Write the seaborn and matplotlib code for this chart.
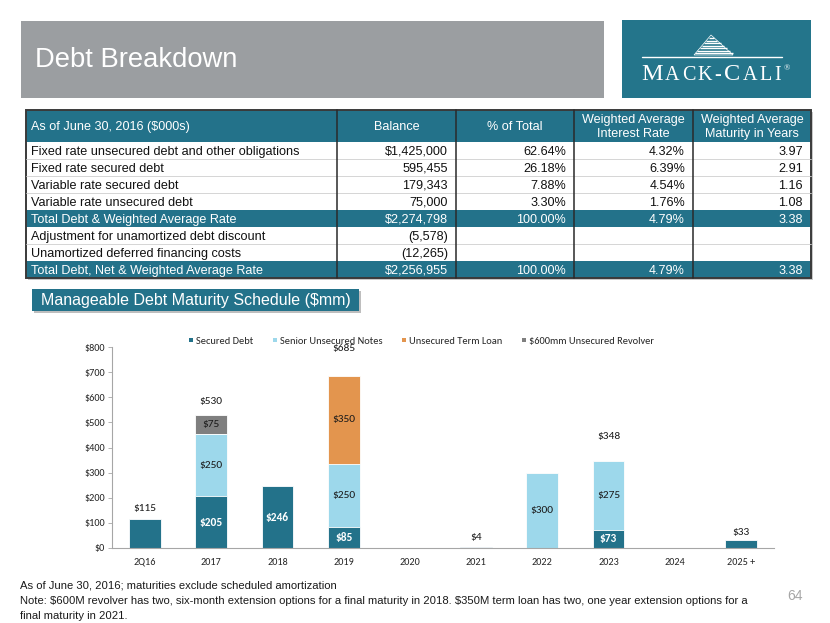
import numpy as np
import pandas as pd
import matplotlib
matplotlib.use("Agg")
import matplotlib.pyplot as plt
import seaborn as sns
from matplotlib import font_manager
from matplotlib.patches import Rectangle, Polygon
from matplotlib.lines import Line2D

# ---------------- data ----------------
categories = ["2Q16", "2017", "2018", "2019", "2020", "2021", "2022", "2023", "2024", "2025 +"]
secured_debt = [115, 205, 246, 85, 0, 4, 0, 73, 0, 33]
senior_unsecured_notes = [0, 250, 0, 250, 0, 0, 300, 275, 0, 0]
unsecured_term_loan = [0, 0, 0, 350, 0, 0, 0, 0, 0, 0]
unsecured_revolver = [0, 75, 0, 0, 0, 0, 0, 0, 0, 0]
series_names = ["Secured Debt", "Senior Unsecured Notes", "Unsecured Term Loan",
                "$600mm Unsecured Revolver"]
show_total = [True, True, False, True, False, True, False, True, False, True]
secured_inside = [False, True, True, True, False, False, False, True, False, False]
y_ticks = [0, 100, 200, 300, 400, 500, 600, 700, 800]

table_header = ["As of June 30, 2016 ($000s)", "Balance", "% of Total",
                "Weighted Average\nInterest Rate", "Weighted Average\nMaturity in Years"]
row_labels = ["Fixed rate unsecured debt and other obligations",
              "Fixed rate secured debt",
              "Variable rate secured debt",
              "Variable rate unsecured debt",
              "Total Debt & Weighted Average Rate",
              "Adjustment for unamortized debt discount",
              "Unamortized deferred financing costs",
              "Total Debt, Net & Weighted Average Rate"]
balance = ["$1,425,000", "595,455", "179,343", "75,000", "$2,274,798",
           "(5,578)", "(12,265)", "$2,256,955"]
pct_total = ["62.64%", "26.18%", "7.88%", "3.30%", "100.00%", "", "", "100.00%"]
interest_rate = ["4.32%", "6.39%", "4.54%", "1.76%", "4.79%", "", "", "4.79%"]
maturity_years = ["3.97", "2.91", "1.16", "1.08", "3.38", "", "", "3.38"]
total_rows = [4, 7]

title = "Debt Breakdown"
subtitle = "Manageable Debt Maturity Schedule ($mm)"
foot1 = "As of June 30, 2016; maturities exclude scheduled amortization"
foot2 = ("Note: $600M revolver has two, six-month extension options for a final maturity in 2018. "
         "$350M term loan has two, one year extension options for a")
foot3 = "final maturity in 2021."
page_no = "64"

# ---------------- style ----------------
plt.rcParams["text.parse_math"] = False
sns.set_theme(style="white")
installed = {f.name for f in font_manager.fontManager.ttflist}
def pick(*names):
    for n in names:
        if n in installed:
            return n
    return "DejaVu Sans"
SANS = pick("Liberation Sans", "Arial")
NARROW = pick("Liberation Sans Narrow", "Liberation Sans")
CHART = pick("Carlito", "Lato", "Open Sans")
SERIF = pick("Liberation Serif", "DejaVu Serif")
plt.rcParams["font.family"] = [SANS, "DejaVu Sans"]

TEAL = "#23728A"
LIGHT = "#9DD8EB"
ORANGE = "#E3954E"
GRAY = "#7F7F7F"
BARGRAY = "#9B9EA1"
colors = [TEAL, LIGHT, ORANGE, GRAY]

W, H = 830, 623
fig = plt.figure(figsize=(W / 100, H / 100), dpi=100)
bg = fig.add_axes([0, 0, 1, 1])
bg.set_xlim(0, W)
bg.set_ylim(H, 0)
bg.axis("off")

# ---------------- header ----------------
bg.add_patch(Rectangle((21, 21), 583, 77, facecolor=BARGRAY, edgecolor="none"))
bg.text(35, 60, title, fontsize=19.7, color="white", va="center", ha="left", family=SANS)

bg.add_patch(Rectangle((622, 20), 189, 78, facecolor="#24758B", edgecolor="none"))
# building icon
for i in range(7):
    yy = 38 + i * 2.5
    bg.plot([711 - (i + 1) * 2.3, 711 + (i + 1) * 3.2], [yy, yy], color="white", lw=1.0,
            solid_capstyle="butt")
bg.add_patch(Polygon([[711, 35], [694, 55], [733, 55]], closed=True, facecolor="none",
                     edgecolor="white", lw=0.5))
bg.plot([642, 782], [56.5, 56.5], color="white", lw=1.0)
# logo word
renderer = fig.canvas.get_renderer()
x = 641
for ch, sz in [("M", 17.5), ("A", 14.5), ("C", 14.5), ("K", 14.5), ("-", 14.5),
               ("C", 17.5), ("A", 14.5), ("L", 14.5), ("I", 14.5)]:
    t = bg.text(x, 80, ch, fontsize=sz, color="white", family=SERIF, va="baseline", ha="left")
    x += t.get_window_extent(renderer).width + 2.4
bg.text(x + 0.5, 70, "®", fontsize=6, color="white", family=SERIF, va="baseline", ha="left")

# ---------------- table ----------------
col_x = [26, 337, 456, 574, 693, 811]
row_y = [110, 142] + [142 + 17.05 * (i + 1) for i in range(len(row_labels))]
tfs = 9.1
bg.add_patch(Rectangle((col_x[0] + 2, row_y[0] + 2), col_x[-1] - col_x[0], row_y[-1] - row_y[0],
                       facecolor="#C8C8C8", edgecolor="none"))
bg.add_patch(Rectangle((col_x[0], row_y[0]), col_x[-1] - col_x[0], row_y[-1] - row_y[0],
                       facecolor="white", edgecolor="none"))
bg.add_patch(Rectangle((col_x[0], row_y[0]), col_x[-1] - col_x[0], row_y[1] - row_y[0],
                       facecolor=TEAL, edgecolor="none"))
for r in total_rows:
    bg.add_patch(Rectangle((col_x[0], row_y[r + 1]), col_x[-1] - col_x[0],
                           row_y[r + 2] - row_y[r + 1], facecolor=TEAL, edgecolor="none"))
for r in range(len(row_labels) - 1):
    if r in total_rows or (r + 1) in total_rows:
        continue
    bg.plot([col_x[0], col_x[-1]], [row_y[r + 2]] * 2, color="#CFCFCF", lw=0.6)
for cx in col_x[1:-1]:
    bg.plot([cx, cx], [row_y[0], row_y[-1]], color="#2A2A2A", lw=1.1)
bg.add_patch(Rectangle((col_x[0], row_y[0]), col_x[-1] - col_x[0], row_y[-1] - row_y[0],
                       facecolor="none", edgecolor="#3A3A3A", lw=1.4))

hy = (row_y[0] + row_y[1]) / 2 + 1
bg.text(col_x[0] + 5, hy, table_header[0], fontsize=tfs, color="white", va="center", ha="left")
for j in range(1, 5):
    bg.text((col_x[j] + col_x[j + 1]) / 2, hy, table_header[j], fontsize=tfs, color="white",
            va="center", ha="center", linespacing=1.2)
for r, lab in enumerate(row_labels):
    cy = (row_y[r + 1] + row_y[r + 2]) / 2 + 4
    c = "white" if r in total_rows else "#111111"
    bg.text(col_x[0] + 5, cy, lab, fontsize=tfs, color=c, va="baseline", ha="left")
    for j, vals in enumerate([balance, pct_total, interest_rate, maturity_years]):
        if vals[r]:
            bg.text(col_x[j + 2] - 8, cy, vals[r], fontsize=tfs, color=c, va="baseline",
                    ha="right")

# ---------------- subtitle bar ----------------
bg.add_patch(Rectangle((34, 291), 327, 22, facecolor="#BEBEBE", edgecolor="none"))
bg.add_patch(Rectangle((32, 289), 327, 22, facecolor=TEAL, edgecolor="none"))
bg.text(41, 300.5, subtitle, fontsize=11.5, color="white", va="center", ha="left")

# ---------------- chart ----------------
ax = fig.add_axes([112 / W, 1 - 548 / H, (774 - 112) / W, (548 - 347) / H])
s1 = np.array(secured_debt)
s2 = s1 + np.array(senior_unsecured_notes)
s3 = s2 + np.array(unsecured_term_loan)
s4 = s3 + np.array(unsecured_revolver)
df = pd.DataFrame({"cat": categories, "c1": s1, "c2": s2, "c3": s3, "c4": s4})
for col, colr in zip(["c4", "c3", "c2", "c1"], [GRAY, ORANGE, LIGHT, TEAL]):
    sns.barplot(data=df, x="cat", y=col, order=categories, color=colr, saturation=1,
                width=0.48, edgecolor="white", linewidth=0.6, ax=ax)
ax.set_xlim(-0.5, 9.5)
ax.set_ylim(0, 800)
ax.set_xlabel("")
ax.set_ylabel("")
ax.set_yticks(y_ticks)
ax.set_yticklabels([f"${v}" for v in y_ticks], family=CHART, fontsize=7.4, color="#262626")
ax.set_xticks(range(len(categories)))
ax.set_xticklabels(categories, family=CHART, fontsize=7.3, color="#262626")
ax.tick_params(axis="y", length=3, width=0.6, color="#A6A6A6", pad=2, left=True)
ax.tick_params(axis="x", length=0, pad=7)
for s in ["top", "right"]:
    ax.spines[s].set_visible(False)
for s in ["left", "bottom"]:
    ax.spines[s].set_color("#A6A6A6")
    ax.spines[s].set_linewidth(0.8)
ax.patch.set_alpha(0)

# segment labels
segs = [secured_debt, senior_unsecured_notes, unsecured_term_loan, unsecured_revolver]
bottoms = [np.zeros(len(categories)), s1, s2, s3]
for k, (vals, bot) in enumerate(zip(segs, bottoms)):
    for i, v in enumerate(vals):
        if v <= 0:
            continue
        if k == 0 and not secured_inside[i]:
            continue
        ax.text(i, bot[i] + v / 2, f"${v}", ha="center", va="center", family=CHART,
                fontsize=8.2, color="white" if k == 0 else "#1A1A1A",
                fontweight="bold" if k == 0 else "normal")
total_label_pad = [44, 52, 0, 108, 0, 36, 0, 94, 0, 27]
for i, tot in enumerate(s4):
    if show_total[i]:
        ax.text(i, tot + total_label_pad[i], f"${tot}", ha="center", va="center",
                family=CHART, fontsize=8.2, color="#1A1A1A", clip_on=False)

handles = [Line2D([], [], marker="s", linestyle="none", markersize=3.2, color=c,
                  markeredgewidth=0) for c in colors]
fig.legend(handles, series_names, loc="center", bbox_to_anchor=(421.5 / W, 1 - 341 / H),
           ncol=4, frameon=False, prop={"family": CHART, "size": 7.5},
           handletextpad=0.25, columnspacing=1.85, handlelength=0.45)

# ---------------- footnotes ----------------
ffs = 8.15 if NARROW == SANS else 9.2
bg.text(20, 585, foot1, fontsize=ffs, family=NARROW, color="#1A1A1A", va="center", ha="left")
bg.text(20, 601, foot2, fontsize=ffs, family=NARROW, color="#1A1A1A", va="center", ha="left")
bg.text(20, 616, foot3, fontsize=ffs, family=NARROW, color="#1A1A1A", va="center", ha="left")
bg.text(803, 596, page_no, fontsize=10, family=NARROW, color="#A6A6A6", va="center", ha="right")

fig.savefig("out.png", dpi=100)
